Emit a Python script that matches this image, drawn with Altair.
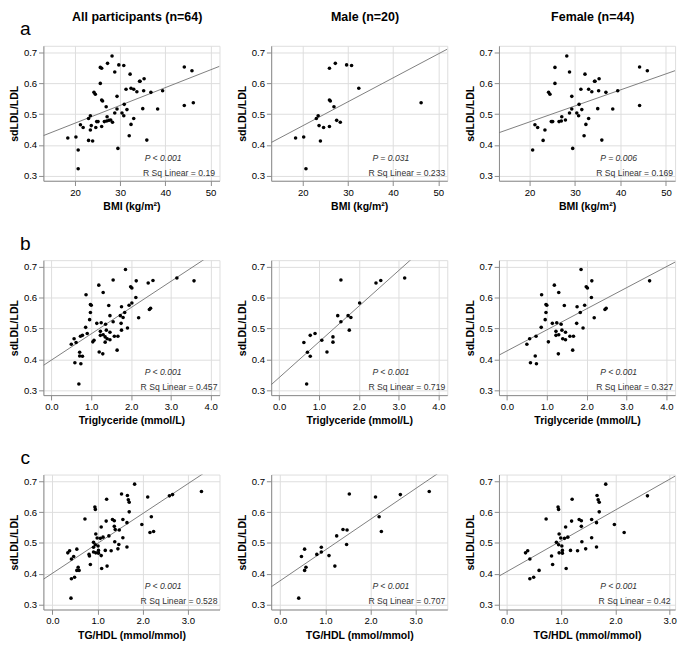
import altair as alt
import pandas as pd

# ---- data ----
# BMI panels
male_bmi = [18.4, 20.2, 20.7, 23.0, 23.4, 23.6, 23.9, 24.6, 25.9, 25.9, 26.1, 25.9, 26.9, 27.2, 27.5, 28.3, 29.7, 30.8, 32.4, 46.2]
male_bmi_y = [0.423, 0.426, 0.323, 0.486, 0.495, 0.463, 0.413, 0.457, 0.649, 0.546, 0.543, 0.460, 0.524, 0.665, 0.480, 0.474, 0.660, 0.658, 0.584, 0.537]
female_bmi = [20.7, 21.2, 21.8, 23.0, 23.4, 24.2, 24.5, 24.8, 25.1, 25.6, 25.6, 26.5, 27.0, 27.1, 27.9, 28.2, 28.8, 28.8, 29.3, 29.3,
              29.5, 30.4, 30.8, 30.9, 31.3, 31.5, 32.2, 32.0, 32.4, 33.0, 33.0, 33.7, 34.3, 34.4, 35.0, 35.2, 35.3, 35.9, 36.8, 38.3,
              39.4, 44.2, 45.9, 44.2]
female_bmi_y = [0.384, 0.466, 0.457, 0.415, 0.449, 0.571, 0.565, 0.476, 0.476, 0.652, 0.600, 0.476, 0.478, 0.492, 0.481, 0.689, 0.637, 0.504, 0.558, 0.517,
                0.389, 0.504, 0.495, 0.532, 0.581, 0.515, 0.630, 0.430, 0.467, 0.486, 0.581, 0.573, 0.607, 0.607, 0.518, 0.576, 0.615, 0.416, 0.571, 0.517,
                0.576, 0.653, 0.641, 0.528]

# Triglyceride panels
male_tg = [0.62, 0.69, 0.71, 0.78, 0.78, 0.90, 1.07, 1.20, 1.35, 1.35, 1.47, 1.55, 1.55, 1.73, 1.76, 1.80, 2.02, 2.43, 2.55, 3.15]
male_tg_y = [0.455, 0.320, 0.423, 0.478, 0.410, 0.484, 0.462, 0.424, 0.473, 0.456, 0.542, 0.658, 0.522, 0.542, 0.495, 0.536, 0.583, 0.648, 0.656, 0.664]
female_tg = [0.50, 0.57, 0.59, 0.73, 0.71, 0.74, 0.87, 0.86, 0.98, 0.98, 0.96, 1.04, 1.14, 1.19, 1.23, 1.23, 1.25, 1.29, 1.30, 1.30,
             1.36, 1.38, 1.40, 1.44, 1.47, 1.47, 1.58, 1.65, 1.67, 1.75, 1.76, 1.84, 1.86, 1.91, 1.95, 1.99, 2.02, 2.12, 2.13, 2.19,
             2.46, 2.49, 3.58, 1.00]
female_tg_y = [0.449, 0.467, 0.389, 0.475, 0.411, 0.386, 0.610, 0.504, 0.578, 0.552, 0.529, 0.457, 0.517, 0.641, 0.491, 0.478, 0.519, 0.418, 0.480, 0.617,
               0.514, 0.495, 0.467, 0.575, 0.488, 0.464, 0.475, 0.430, 0.475, 0.517, 0.571, 0.552, 0.692, 0.502, 0.576, 0.636, 0.632, 0.601, 0.655, 0.535,
               0.562, 0.566, 0.655, 0.576]

# TG/HDL panels
male_th = [0.41, 0.47, 0.54, 0.54, 0.57, 0.81, 0.91, 0.91, 1.08, 1.21, 1.25, 1.39, 1.47, 1.48, 1.53, 2.11, 2.19, 2.24, 2.66, 3.30]
male_th_y = [0.321, 0.456, 0.480, 0.411, 0.421, 0.463, 0.471, 0.486, 0.459, 0.425, 0.523, 0.544, 0.495, 0.542, 0.659, 0.649, 0.585, 0.537, 0.657, 0.667]
female_th = [0.34, 0.38, 0.42, 0.42, 0.49, 0.59, 0.72, 0.82, 0.84, 0.91, 0.94, 0.95, 0.95, 0.96, 0.96, 0.99, 1.01, 1.02, 1.02, 1.08,
             1.09, 1.12, 1.17, 1.19, 1.20, 1.30, 1.33, 1.37, 1.37, 1.38, 1.45, 1.56, 1.56, 1.65, 1.65, 1.66, 1.68, 1.70, 1.70, 1.82,
             1.98, 2.16, 2.59, 1.06]
female_th_y = [0.468, 0.475, 0.448, 0.384, 0.389, 0.411, 0.578, 0.458, 0.430, 0.502, 0.617, 0.609, 0.494, 0.529, 0.468, 0.516, 0.490, 0.476, 0.467, 0.552,
               0.417, 0.519, 0.476, 0.571, 0.642, 0.475, 0.576, 0.572, 0.554, 0.504, 0.481, 0.576, 0.517, 0.566, 0.487, 0.654, 0.640, 0.632, 0.601, 0.691,
               0.560, 0.534, 0.653, 0.515]

col_titles = ["All participants (n=64)", "Male (n=20)", "Female (n=44)"]
row_labels = ["a", "b", "c"]
x_titles = ["BMI (kg/m²)", "Triglyceride (mmol/L)", "TG/HDL (mmol/mmol)"]
p_texts = [["P < 0.001", "P = 0.031", "P = 0.006"],
           ["P < 0.001", "P < 0.001", "P < 0.001"],
           ["P < 0.001", "P < 0.001", "P < 0.001"]]
r_texts = [["R Sq Linear = 0.19", "R Sq Linear = 0.233", "R Sq Linear = 0.169"],
           ["R Sq Linear = 0.457", "R Sq Linear = 0.719", "R Sq Linear = 0.327"],
           ["R Sq Linear = 0.528", "R Sq Linear = 0.707", "R Sq Linear = 0.42"]]
x_ticks = [[20, 30, 40, 50], [0, 1, 2, 3, 4], [0, 1, 2, 3]]
x_domains = [[[13, 52], [13, 52], [13.3, 52]],
             [[-0.2, 4.22], [-0.2, 4.22], [-0.2, 4.22]],
             [[-0.2, 3.7], [-0.2, 3.7], [-0.15, 3.1]]]
x_formats = ["d", ".1f", ".1f"]
y_ticks = [0.3, 0.4, 0.5, 0.6, 0.7]
y_domain = [0.284, 0.722]

rows_data = [
    [(male_bmi + female_bmi, male_bmi_y + female_bmi_y), (male_bmi, male_bmi_y), (female_bmi, female_bmi_y)],
    [(male_tg + female_tg, male_tg_y + female_tg_y), (male_tg, male_tg_y), (female_tg, female_tg_y)],
    [(male_th + female_th, male_th_y + female_th_y), (male_th, male_th_y), (female_th, female_th_y)],
]

W, H = 184, 141
FONT = "Liberation Sans"


def panel(r, c):
    xs, ys = rows_data[r][c]
    df = pd.DataFrame({"x": xs, "y": ys})
    dom = x_domains[r][c]
    xenc = alt.X("x:Q", scale=alt.Scale(domain=dom, nice=False, zero=False),
                 axis=alt.Axis(values=x_ticks[r], format=x_formats[r], title=x_titles[r]))
    yenc = alt.Y("y:Q", scale=alt.Scale(domain=y_domain, nice=False, zero=False),
                 axis=alt.Axis(values=y_ticks, format=".1f", title="sdLDL/LDL"))
    base = alt.Chart(df)
    pts = base.mark_circle(size=14, color="black", opacity=1).encode(x=xenc, y=yenc)
    line = base.transform_regression("x", "y", extent=dom).mark_line(
        color="#7a7a7a", strokeWidth=1, clip=True).encode(x=xenc, y=yenc)
    ptxt = alt.Chart(pd.DataFrame({"t": [p_texts[r][c]]})).mark_text(
        font=FONT, fontSize=9, fontStyle="italic", color="#333", align="center").encode(
        text="t:N", x=alt.value(W * 0.68), y=alt.value(H * 0.83))
    rtxt = alt.Chart(pd.DataFrame({"t": [r_texts[r][c]]})).mark_text(
        font=FONT, fontSize=9, color="#333", align="center").encode(
        text="t:N", x=alt.value(W * 0.77), y=alt.value(H * 0.94))
    layers = [line, pts, ptxt, rtxt]
    if c == 0:
        lab = alt.Chart(pd.DataFrame({"t": [row_labels[r]]})).mark_text(
            font=FONT, fontSize=20, color="black", align="center", baseline="bottom").encode(
            text="t:N", x=alt.value(-19), y=alt.value(-7))
        layers.append(lab)
    if r == 0:
        ttl = alt.Chart(pd.DataFrame({"t": [col_titles[c]]})).mark_text(
            font=FONT, fontSize=13, fontWeight="bold", color="black", align="center",
            baseline="middle").encode(
            text="t:N", x=alt.value(W / 2 + 6), y=alt.value(-30))
        layers.append(ttl)
    return alt.layer(*layers).properties(width=W, height=H)


rows = []
for r in range(3):
    rows.append(alt.hconcat(*[panel(r, c) for c in range(3)], spacing=16))

chart = alt.vconcat(*rows, spacing=22).properties(
    padding={"left": 0, "top": -12, "right": 0, "bottom": 0}
).configure_view(
    stroke="black", strokeWidth=1
).configure_axis(
    labelFont=FONT, labelFontSize=8.5, labelColor="#555",
    titleFont=FONT, titleFontSize=11, titleFontWeight="bold", titleColor="black",
    tickColor="#777", tickSize=5, domain=False, grid=False
).configure_axisX(
    labelPadding=2, titlePadding=4
).configure_axisY(
    labelPadding=1, titlePadding=1
).configure(background="white")

chart.save("out.html", embed_options={"renderer": "svg", "actions": False})
